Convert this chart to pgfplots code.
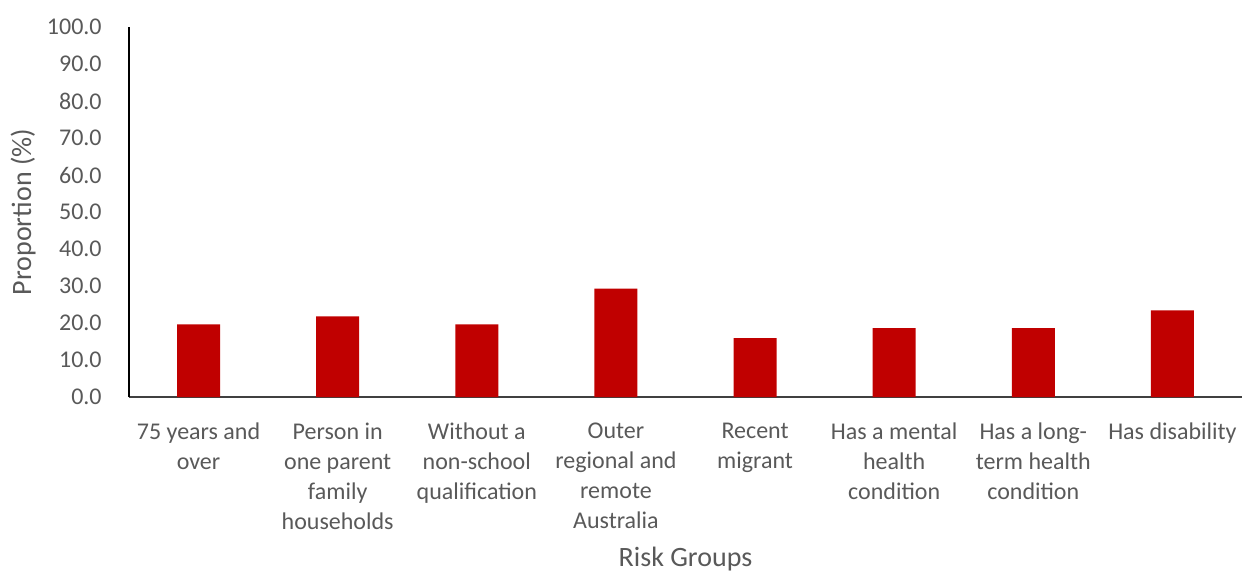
\documentclass[border=0pt]{standalone}
\usepackage{fontspec}
\setmainfont{Carlito}
\usepackage{pgfplots}
\pgfplotsset{compat=1.18}
\definecolor{barred}{HTML}{C00000}
\definecolor{labelgray}{HTML}{595959}
\begin{document}
\begin{tikzpicture}
\useasboundingbox (-64.5pt,-88.5pt) rectangle (557pt,198.5pt);
\begin{axis}[
  at={(0,0)}, anchor=south west,
  scale only axis,
  width=556.5pt, height=185pt,
  xmin=-0.5, xmax=7.5,
  ymin=0, ymax=100,
  ytick={0,10,...,100},
  xtick={0,...,7},
  xticklabels={
    {75 years and\\over},
    {Person in\\one parent\\family\\households},
    {Without a\\non-school\\qualification},
    {Outer\\regional and\\remote\\Australia},
    {Recent\\migrant},
    {Has a mental\\health\\condition},
    {Has a long-\\term health\\condition},
    {Has disability}},
  axis x line=bottom, axis y line=left,
  x axis line style={-, draw=black!75, line width=1pt},
  y axis line style={-, draw=black, line width=0.8pt},
  major tick style={draw=none},
  font=\fontsize{12}{15}\selectfont,
  /pgf/number format/assume math mode=true,
  yticklabel={\pgfmathprintnumber[fixed,fixed zerofill,precision=1]{\tick}},
  yticklabel style={text=labelgray, xshift=-8pt},
  xticklabel style={text=labelgray, align=center, anchor=north, yshift=-5pt,
    font=\fontsize{12}{15}\selectfont},
  every axis y label/.style={at={(axis description cs:-0.0952,0.5)},
    rotate=90, anchor=center, text=labelgray,
    font=\fontsize{14}{16}\selectfont},
  every axis x label/.style={at={(axis description cs:0.5,-0.4568)},
    anchor=base, text=labelgray, font=\fontsize{14}{16}\selectfont},
  ylabel={Proportion (\%)},
  xlabel={Risk Groups},
  ybar, bar width=21.5pt,
]
\addplot[fill=barred, draw=none] coordinates {
  (0,19.6) (1,21.8) (2,19.6) (3,29.3) (4,15.9) (5,18.6) (6,18.6) (7,23.4)
};
\end{axis}
\end{tikzpicture}
\end{document}
